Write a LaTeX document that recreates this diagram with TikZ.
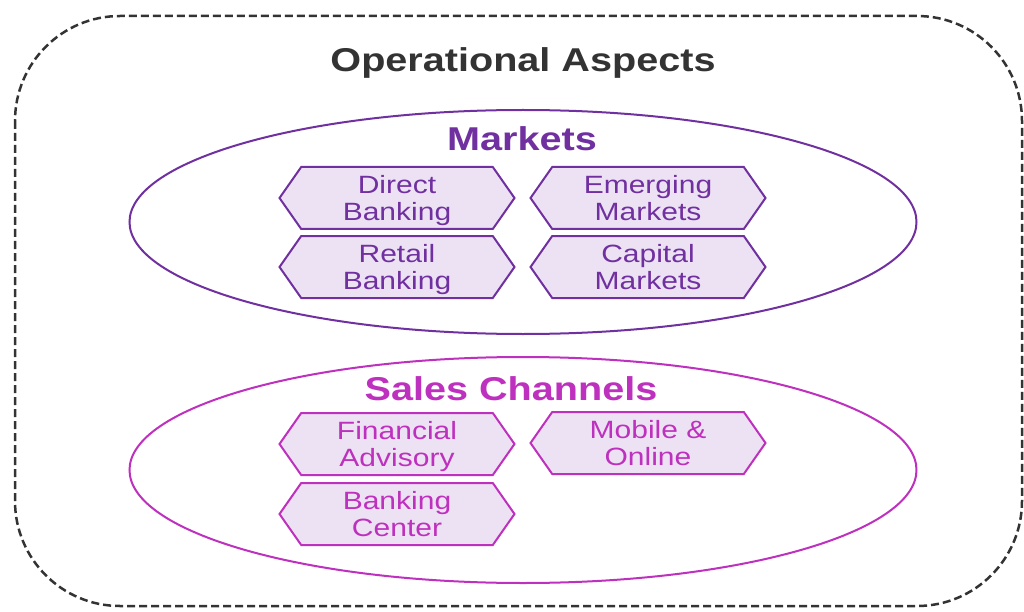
\documentclass[tikz,border=0pt]{standalone}
\usepackage{fontspec}
\setmainfont[FakeStretch=1.2]{Liberation Sans}
\usepackage{tikz}
\usetikzlibrary{shapes.geometric,shapes.symbols}
\usepackage{xcolor}
\definecolor{aspectgray}{HTML}{333333}
\definecolor{marketpurple}{HTML}{7030A0}
\definecolor{salesmagenta}{HTML}{BE30BE}
\definecolor{hexfill}{HTML}{EDE2F4}

\begin{document}
\begin{tikzpicture}[x=1pt,y=-1pt,
  hexbox/.style={signal, signal to=west and east, signal pointer angle=110,
    draw, line width=2pt, fill=hexfill, minimum width=235pt, minimum height=62pt,
    inner sep=0pt, text depth=0pt, align=center, font=\fontsize{25}{27}\selectfont},
  heading/.style={anchor=base, font=\bfseries\fontsize{33}{36}\selectfont},
  group/.style={ellipse, draw, line width=2pt, inner sep=0pt}]
  \useasboundingbox (0,0) rectangle (1024,612);
  \draw[aspectgray, line width=2.5pt, dash pattern=on 8pt off 4pt,
    rounded corners=105pt] (15,16) rectangle (1022,606);
  \node[heading, text=aspectgray] (aspects) at (523,72) {Operational Aspects};
  % markets
  \node[group, draw=marketpurple, minimum width=787pt, minimum height=224pt] (markets) at (523,222) {};
  \node[heading, text=marketpurple] (marketstitle) at (522,151) {Markets};
  \node[hexbox, draw=marketpurple, text=marketpurple] (direct) at (397,198) {Direct\\Banking};
  \node[hexbox, draw=marketpurple, text=marketpurple] (emerging) at (648,198) {Emerging\\Markets};
  \node[hexbox, draw=marketpurple, text=marketpurple] (retail) at (397,267) {Retail\\Banking};
  \node[hexbox, draw=marketpurple, text=marketpurple] (capital) at (648,267) {Capital\\Markets};
  % sales channels
  \node[group, draw=salesmagenta, minimum width=787pt, minimum height=226pt] (sales) at (523,470) {};
  \node[heading, text=salesmagenta] (salestitle) at (511,400) {Sales Channels};
  \node[hexbox, draw=salesmagenta, text=salesmagenta] (advisory) at (397,444) {Financial\\Advisory};
  \node[hexbox, draw=salesmagenta, text=salesmagenta] (mobile) at (648,443) {Mobile \&\\Online};
  \node[hexbox, draw=salesmagenta, text=salesmagenta] (center) at (397,514) {Banking\\Center};
\end{tikzpicture}
\end{document}
